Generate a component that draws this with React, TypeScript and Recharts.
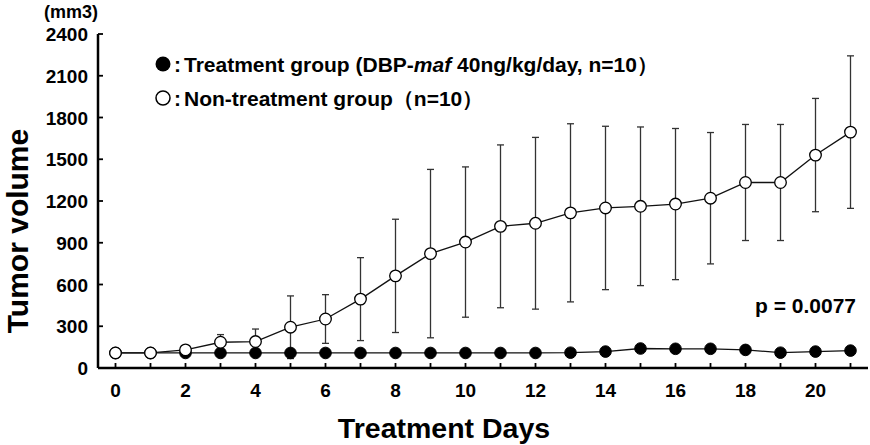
import React from "react";
import { LineChart, Line, XAxis, YAxis, ErrorBar } from "recharts";

const days = [0, 1, 2, 3, 4, 5, 6, 7, 8, 9, 10, 11, 12, 13, 14, 15, 16, 17, 18, 19, 20, 21];
const treatedMean = [108, 108, 108, 108, 108, 108, 108, 108, 108, 108, 108, 108, 108, 110, 118, 140, 138, 138, 130, 110, 118, 125];
const treatedSd = [5, 5, 5, 5, 5, 5, 5, 5, 5, 5, 5, 5, 5, 5, 10, 25, 25, 22, 28, 10, 12, 12];
const controlMean = [108, 108, 130, 185, 190, 293, 352, 495, 662, 822, 905, 1018, 1040, 1115, 1150, 1162, 1178, 1220, 1333, 1333, 1530, 1695];
const controlSd = [0, 0, 30, 55, 90, 225, 175, 298, 407, 605, 540, 585, 617, 640, 587, 570, 543, 472, 417, 417, 407, 548];
const yTicks = [0, 300, 600, 900, 1200, 1500, 1800, 2100, 2400];

const data = days.map((d, i) => ({
  day: d,
  treated: treatedMean[i],
  treatedErr: treatedSd[i],
  control: controlMean[i],
  controlErr: controlSd[i],
}));

const FONT = "'Liberation Sans', Arial, sans-serif";

const XTick = (props: any) => {
  const { x, y, payload } = props;
  return (
    <g>
      <line x1={x} x2={x} y1={y} y2={y - 5} stroke="#000" strokeWidth={1.8} />
      {payload.value % 2 === 0 && (
        <text x={x} y={y + 29} textAnchor="middle" fontFamily={FONT} fontWeight="bold" fontSize={19} fill="#000">
          {payload.value}
        </text>
      )}
    </g>
  );
};

const YTick = (props: any) => {
  const { x, y, payload } = props;
  return (
    <g>
      <line x1={x} x2={x + 5} y1={y} y2={y} stroke="#000" strokeWidth={1.8} />
      <text x={x - 10} y={y + 7} textAnchor="end" fontFamily={FONT} fontWeight="bold" fontSize={19} fill="#000">
        {payload.value}
      </text>
    </g>
  );
};

const OpenDot = (props: any) => {
  const { cx, cy } = props;
  return <circle cx={cx} cy={cy} r={5.8} fill="#fff" stroke="#000" strokeWidth={1.3} />;
};

const FilledDot = (props: any) => {
  const { cx, cy } = props;
  return <circle cx={cx} cy={cy} r={5.8} fill="#000" stroke="#000" strokeWidth={1} />;
};

export default function App() {
  return (
    <div style={{ position: "relative", width: 870, height: 445, background: "#fff" }}>
      <style>{"body{margin:0}"}</style>
      <LineChart width={870} height={445} data={data} margin={{ top: 34, right: 2, bottom: 47, left: 0 }}>
        <XAxis
          dataKey="day"
          type="number"
          domain={[-0.5, 21.5]}
          ticks={days}
          interval={0}
          height={30}
          tickSize={0}
          tickMargin={0}
          tickLine={false}
          tick={<XTick />}
          axisLine={{ stroke: "#000", strokeWidth: 2.5 }}
        />
        <YAxis
          type="number"
          domain={[0, 2400]}
          ticks={yTicks}
          interval={0}
          width={98}
          tickSize={0}
          tickMargin={0}
          tickLine={false}
          tick={<YTick />}
          axisLine={{ stroke: "#000", strokeWidth: 2.5 }}
        />
        <Line
          dataKey="treated"
          stroke="#111"
          strokeWidth={1.3}
          dot={<FilledDot />}
          activeDot={false}
          isAnimationActive={false}
        >
          <ErrorBar dataKey="treatedErr" width={3.5} stroke="#333" strokeWidth={1.3} />
        </Line>
        <Line
          dataKey="control"
          stroke="#111"
          strokeWidth={1.3}
          dot={<OpenDot />}
          activeDot={false}
          isAnimationActive={false}
        >
          <ErrorBar dataKey="controlErr" width={3.5} stroke="#333" strokeWidth={1.3} />
        </Line>
      </LineChart>
      <svg
        width={870}
        height={445}
        style={{ position: "absolute", left: 0, top: 0, pointerEvents: "none" }}
        fontFamily={FONT}
        fontWeight="bold"
      >
        <text x={71} y={18} textAnchor="middle" fontSize={18}>(mm3)</text>
        <text
          x={0}
          y={0}
          textAnchor="middle"
          fontSize={30}
          transform="translate(28,231) rotate(-90)"
        >
          Tumor volume
        </text>
        <text x={444} y={438} textAnchor="middle" fontSize={28.5}>Treatment Days</text>
        <text x={856} y={313} textAnchor="end" fontSize={21}>p = 0.0077</text>

        <circle cx={163} cy={64} r={7.5} fill="#000" />
        <text x={174} y={72} fontSize={21}>
          :<tspan dx={3}>Treatment group (DBP-</tspan>
          <tspan fontStyle="italic">maf</tspan>
          <tspan> 40ng/kg/day, n=10）</tspan>
        </text>
        <circle cx={163} cy={98} r={7} fill="#fff" stroke="#000" strokeWidth={1.5} />
        <text x={174} y={106} fontSize={21}>
          :<tspan dx={3}>Non-treatment group（n=10）</tspan>
        </text>
      </svg>
    </div>
  );
}
